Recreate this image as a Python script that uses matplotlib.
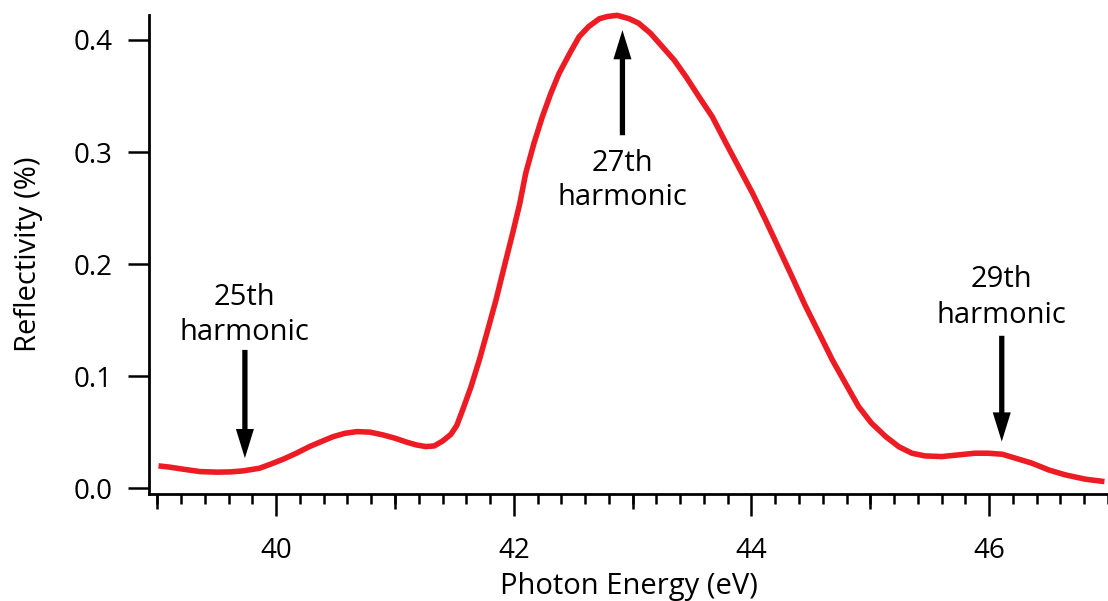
#!/usr/bin/env python3
"""
多层膜反射率曲线 (XUV 高次谐波区)
"""

import matplotlib
matplotlib.use("Agg")
import matplotlib.pyplot as plt
from matplotlib.ticker import MultipleLocator, FixedLocator

# 反射率数据 (光子能量 eV, 反射率 %)
energy = [39.01, 39.11, 39.22, 39.36, 39.50, 39.61, 39.72, 39.86, 39.96,
          40.06, 40.17, 40.28, 40.38, 40.48, 40.58, 40.68, 40.79, 40.90,
          41.00, 41.10, 41.18, 41.26, 41.33, 41.40, 41.47, 41.52, 41.57,
          41.64, 41.71, 41.78, 41.85, 41.92, 41.99, 42.05, 42.10, 42.17,
          42.24, 42.31, 42.38, 42.47, 42.55, 42.63, 42.72, 42.79, 42.87,
          42.97, 43.05, 43.15, 43.25, 43.35, 43.45, 43.56, 43.67, 43.78,
          43.89, 44.01, 44.12, 44.23, 44.34, 44.45, 44.57, 44.68, 44.79,
          44.90, 45.01, 45.13, 45.24, 45.35, 45.46, 45.60, 45.74, 45.88,
          45.99, 46.11, 46.22, 46.36, 46.50, 46.64, 46.81, 46.97]
reflectivity = [0.0199, 0.0187, 0.0169, 0.0148, 0.0143, 0.0145, 0.0154, 0.0178, 0.0217,
                0.0259, 0.0312, 0.0371, 0.0416, 0.0460, 0.0490, 0.0505, 0.0500, 0.0475,
                0.0446, 0.0410, 0.0386, 0.0371, 0.0377, 0.0420, 0.0480, 0.0560, 0.0700,
                0.0906, 0.1145, 0.1410, 0.1680, 0.1980, 0.2275, 0.2540, 0.2810, 0.3080,
                0.3315, 0.3520, 0.3700, 0.3880, 0.4030, 0.4120, 0.4190, 0.4210, 0.4220,
                0.4190, 0.4150, 0.4060, 0.3940, 0.3820, 0.3670, 0.3490, 0.3315, 0.3090,
                0.2870, 0.2630, 0.2390, 0.2140, 0.1890, 0.1635, 0.1380, 0.1145, 0.0937,
                0.0730, 0.0580, 0.0460, 0.0370, 0.0312, 0.0288, 0.0282, 0.0297, 0.0312,
                0.0312, 0.0303, 0.0268, 0.0223, 0.0163, 0.0119, 0.0080, 0.0059]

# 谐波标注: 名称, 箭头位置, 箭尾/箭头 y, 两行文字基线
harm_names = ["25th", "27th", "29th"]
harm_x = [39.737, 42.914, 46.106]
harm_tail = [0.1234, 0.3150, 0.1360]
harm_tip = [0.0268, 0.4088, 0.0416]
harm_text_y = [(0.1635, 0.1324), (0.2833, 0.2527), (0.1793, 0.1477)]

x_major = [40, 42, 44, 46]
x_mid = [39, 41, 43, 45]
y_major = [0.0, 0.1, 0.2, 0.3, 0.4]

plt.rcParams['font.family'] = ['Open Sans', 'DejaVu Sans']
FS_TICK = 20
FS_TEXT = 21

fig = plt.figure(figsize=(11.08, 6.01), dpi=100)
ax = fig.add_axes([149 / 1108, 107 / 601, 959 / 1108, 479 / 601])

ax.plot(energy, reflectivity, color='#ED1C24', linewidth=4.0,
        solid_joinstyle='round', solid_capstyle='butt', clip_on=False)

for name, x, tail, tip, (y1, y2) in zip(harm_names, harm_x, harm_tail,
                                         harm_tip, harm_text_y):
    ax.annotate('', xy=(x, tip), xytext=(x, tail),
                arrowprops=dict(width=3.8, headwidth=13, headlength=21,
                                facecolor='black', edgecolor='none',
                                shrink=0.0))
    ax.text(x, y1, name, ha='center', va='baseline', fontsize=FS_TEXT)
    ax.text(x, y2, 'harmonic', ha='center', va='baseline', fontsize=FS_TEXT)

ax.set_xlim(38.93, 47.0)
ax.set_ylim(-0.0052, 0.4223)

for s in ['top', 'right']:
    ax.spines[s].set_visible(False)
for s in ['left', 'bottom']:
    ax.spines[s].set_linewidth(2.0)

ax.xaxis.set_major_locator(FixedLocator(x_major))
ax.xaxis.set_minor_locator(MultipleLocator(0.2))
ax.yaxis.set_major_locator(FixedLocator(y_major))
ax.set_yticklabels([f"{v:.1f}" for v in y_major])

ax.tick_params(axis='x', which='major', direction='out', length=16,
               width=1.8, pad=15, labelsize=FS_TICK)
ax.tick_params(axis='x', which='minor', direction='out', length=7, width=1.8)
ax.tick_params(axis='y', which='major', direction='out', length=15,
               width=1.8, pad=11, labelsize=FS_TICK)

# 奇数整数处的中等长度刻度
sec = ax.secondary_xaxis('bottom')
sec.xaxis.set_major_locator(FixedLocator(x_mid))
sec.tick_params(direction='out', length=11, width=1.8, labelbottom=False)
sec.spines['bottom'].set_visible(False)

ax.set_xlabel('Photon Energy (eV)', fontsize=FS_TEXT, labelpad=5)
ax.set_ylabel('Reflectivity (%)', fontsize=FS_TEXT, labelpad=22)

fig.savefig('out.png', dpi=100)
